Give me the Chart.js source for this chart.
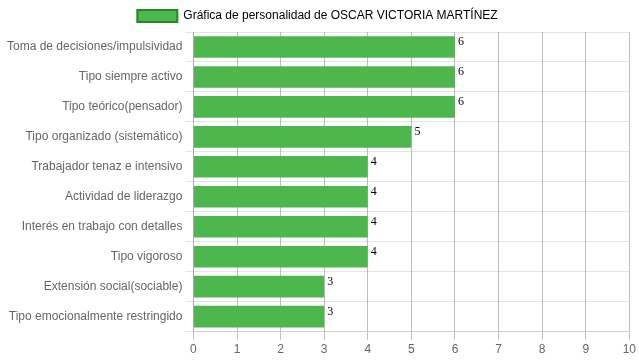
<!DOCTYPE html>
<html><head><meta charset="utf-8">
<script src="https://cdn.jsdelivr.net/npm/chart.js@4"></script>
<style>html,body{margin:0;padding:0;background:#fff}#w{width:639px;height:360px}</style>
</head><body><div id="w"><canvas id="c"></canvas></div>
<script>
const categories = ["Toma de decisiones/impulsividad","Tipo siempre activo","Tipo teórico(pensador)","Tipo organizado (sistemático)","Trabajador tenaz e intensivo","Actividad de liderazgo","Interés en trabajo con detalles","Tipo vigoroso","Extensión social(sociable)","Tipo emocionalmente restringido"];
const values = [6,6,6,5,4,4,4,4,3,3];
const seriesName = "Gráfica de personalidad de OSCAR VICTORIA MARTÍNEZ";
const tickMax = 10;

Chart.defaults.font.family = "'Liberation Sans', Arial, sans-serif";
Chart.defaults.font.size = 12;
Chart.defaults.color = "#666";

const labelPlugin = {
  id: 'vals',
  afterDatasetsDraw(chart) {
    const ctx = chart.ctx;
    const meta = chart.getDatasetMeta(0);
    ctx.save();
    ctx.font = "12px 'Liberation Serif', 'Times New Roman', serif";
    ctx.fillStyle = "#000";
    ctx.textAlign = "left";
    ctx.textBaseline = "top";
    meta.data.forEach((bar, i) => {
      const h = bar.height;
      ctx.fillText(String(values[i]), bar.x + 3, bar.y - h/2);
    });
    ctx.restore();
  }
};

new Chart(document.getElementById('c'), {
  type: 'bar',
  data: { labels: categories, datasets: [{ label: seriesName, data: values, backgroundColor: '#4DB74D', borderWidth: 0 }] },
  options: {
    indexAxis: 'y', responsive: true, maintainAspectRatio: false, animation: false,
    layout: { padding: { right: 8, left: 4 } },
    plugins: {
      tooltip: { enabled: false },
      legend: { labels: { boxWidth: 40, generateLabels: () => [{ text: seriesName, fillStyle: '#4DB74D', strokeStyle: '#1F8A1F', lineWidth: 2, hidden: false, datasetIndex: 0 }] } }
    },
    scales: {
      x: { min: 0, max: tickMax, ticks: { stepSize: 1 }, grid: { color: 'rgba(0,0,0,0.25)' } },
      y: { grid: { color: 'rgba(0,0,0,0.1)' } }
    }
  },
  plugins: [labelPlugin]
});
</script></body></html>
